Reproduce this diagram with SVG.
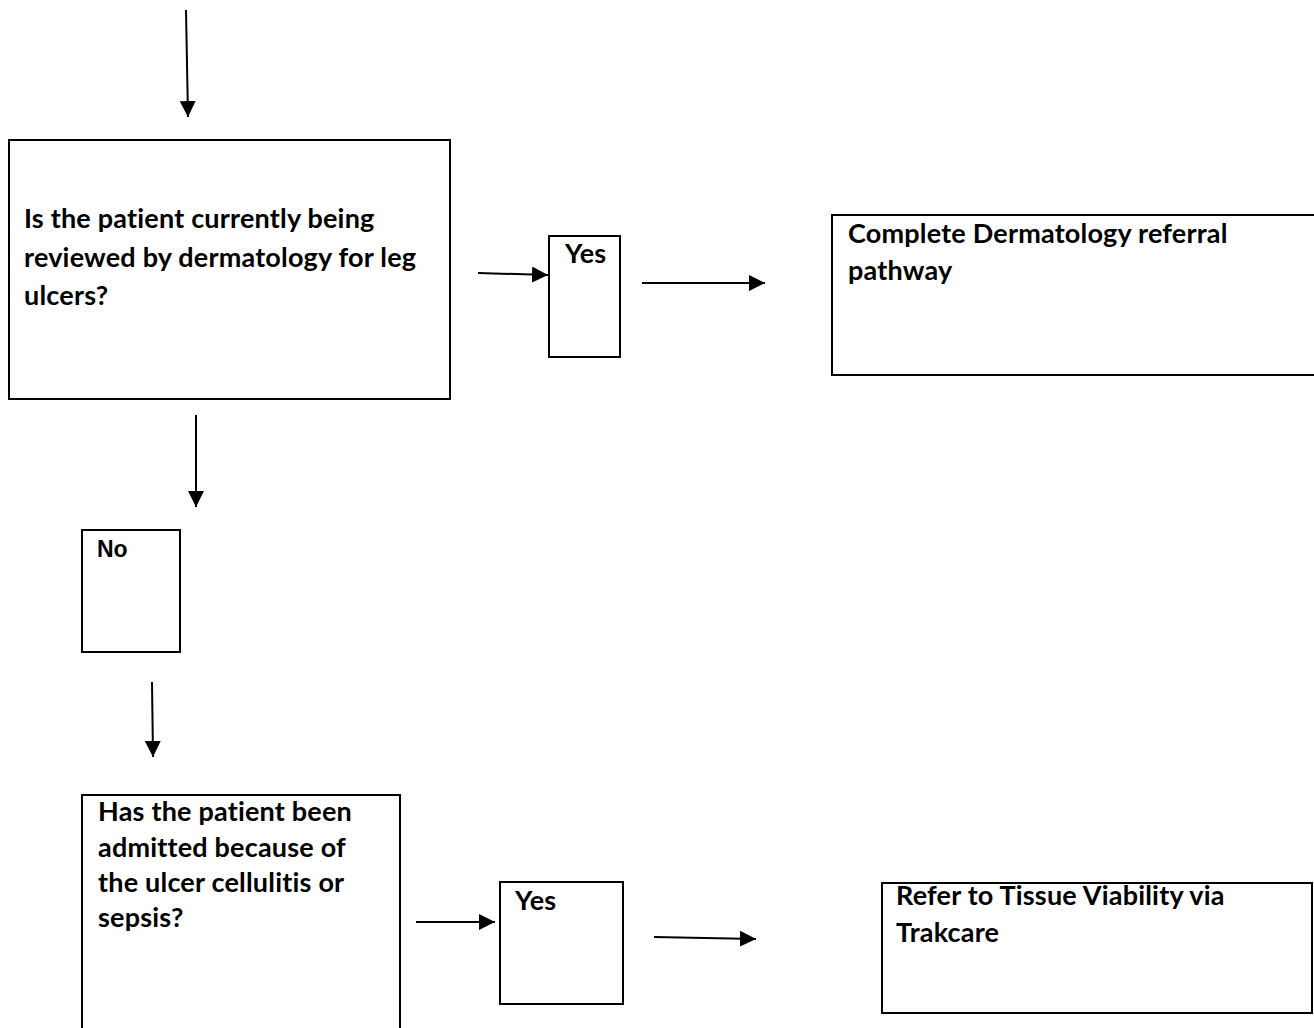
<svg xmlns="http://www.w3.org/2000/svg" width="1314" height="1028" viewBox="0 0 1314 1028">
<style>
.box{fill:#fff;stroke:#000;stroke-width:2}
.t{font-family:Lato,"Liberation Sans",sans-serif;font-weight:bold;font-size:27px;letter-spacing:0.2px;fill:#000}
.a{font-family:"Liberation Sans",Arial,sans-serif;font-weight:bold;font-size:23px;fill:#000}
.c{stroke:#000;stroke-width:2;fill:none;marker-end:url(#ah)}
</style>
<defs>
<marker id="ah" markerUnits="userSpaceOnUse" markerWidth="16" markerHeight="16" viewBox="0 0 16 16" refX="16" refY="8" orient="auto">
<path d="M0,0 L16,8 L0,16 Z" fill="#000"/>
</marker>
</defs>
<rect width="1314" height="1028" fill="#fff"/>
<g id="connectors">
<line class="c" x1="186" y1="10" x2="188" y2="117"/>
<line class="c" x1="478" y1="273" x2="548" y2="275"/>
<line class="c" x1="642" y1="283" x2="765" y2="283"/>
<line class="c" x1="196" y1="415" x2="196" y2="507"/>
<line class="c" x1="152" y1="682" x2="153" y2="757"/>
<line class="c" x1="416" y1="922" x2="495" y2="922"/>
<line class="c" x1="654" y1="937" x2="756" y2="939"/>
</g>
<g id="q1">
<rect class="box" x="9" y="140" width="441" height="259"/>
<text class="t" x="24" y="228">Is the patient currently being</text>
<text class="t" x="24" y="266.5">reviewed by dermatology for leg</text>
<text class="t" x="24" y="305">ulcers?</text>
</g>
<g id="yes1">
<rect class="box" x="549" y="236" width="71" height="121"/>
<text class="t" x="565" y="263">Yes</text>
</g>
<g id="derm">
<rect class="box" x="832" y="215" width="490" height="160"/>
<text class="t" x="848" y="243">Complete Dermatology referral</text>
<text class="t" x="848" y="280">pathway</text>
</g>
<g id="no">
<rect class="box" x="82" y="530" width="98" height="122"/>
<text class="a" x="97" y="557">No</text>
</g>
<g id="q2">
<rect class="box" x="82" y="795" width="318" height="250"/>
<text class="t" x="98" y="821">Has the patient been</text>
<text class="t" x="98" y="856.5">admitted because of</text>
<text class="t" x="98" y="892">the ulcer cellulitis or</text>
<text class="t" x="98" y="927">sepsis?</text>
</g>
<g id="yes2">
<rect class="box" x="500" y="882" width="123" height="122"/>
<text class="t" x="515" y="910">Yes</text>
</g>
<g id="tissue">
<rect class="box" x="882" y="883" width="430" height="130"/>
<text class="t" x="896" y="905">Refer to Tissue Viability via</text>
<text class="t" x="896" y="942">Trakcare</text>
</g>
</svg>
